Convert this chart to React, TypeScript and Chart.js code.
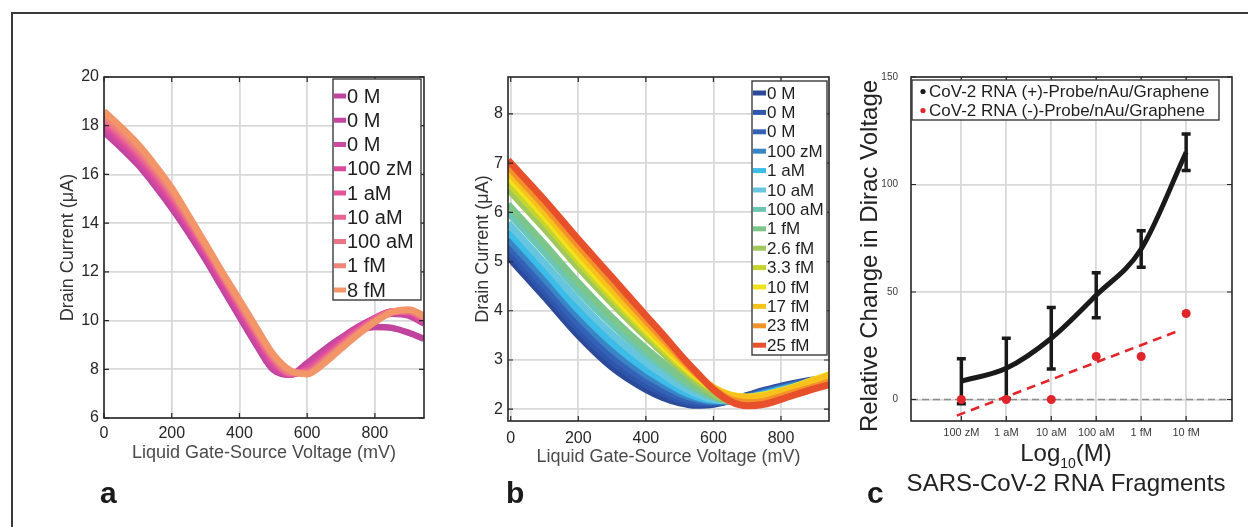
import React, { useEffect, useRef } from "react";
import { Chart, registerables } from "chart.js";

Chart.register(...registerables);

const FONT = '"Liberation Sans", Arial, Helvetica, sans-serif';
const W = 1248;
const H = 527;

// ---------------- Panel a data ----------------
const voltA = [0, 50, 100, 150, 200, 250, 300, 350, 400, 450, 500, 550, 600, 650, 700, 750, 800, 850, 900, 945];
const concA = ["0 M", "0 M", "0 M", "100 zM", "1 aM", "10 aM", "100 aM", "1 fM", "8 fM"];
const colorsA = ["#c0449e", "#c6479f", "#cc4aa2", "#dc4a9e", "#e4549a", "#e86492", "#ec7488", "#ef8578", "#f2966a"];
const curA_0M_1 = [17.75, 17.1, 16.4, 15.55, 14.62, 13.6, 12.5, 11.32, 10.15, 9.0, 7.98, 7.78, 8.25, 8.8, 9.28, 9.58, 9.74, 9.7, 9.5, 9.25];
const curA_0M_2 = [17.85, 17.2, 16.5, 15.65, 14.72, 13.7, 12.6, 11.44, 10.28, 9.12, 8.06, 7.78, 8.15, 8.72, 9.28, 9.74, 10.08, 10.28, 10.2, 9.88];
const curA_0M_3 = [17.95, 17.3, 16.6, 15.75, 14.82, 13.8, 12.7, 11.54, 10.38, 9.22, 8.14, 7.79, 8.08, 8.64, 9.2, 9.7, 10.1, 10.35, 10.3, 9.96];
const curA_100zM = [18.05, 17.4, 16.7, 15.86, 14.93, 13.9, 12.8, 11.64, 10.48, 9.32, 8.24, 7.8, 8.02, 8.56, 9.12, 9.65, 10.1, 10.36, 10.32, 10.0];
const curA_1aM = [18.15, 17.5, 16.8, 15.97, 15.04, 14.0, 12.9, 11.74, 10.58, 9.42, 8.34, 7.82, 7.96, 8.48, 9.06, 9.6, 10.06, 10.36, 10.36, 10.05];
const curA_10aM = [18.25, 17.6, 16.9, 16.08, 15.14, 14.08, 12.97, 11.8, 10.64, 9.48, 8.41, 7.84, 7.9, 8.42, 9.0, 9.55, 10.04, 10.36, 10.38, 10.1];
const curA_100aM = [18.35, 17.7, 17.0, 16.18, 15.24, 14.16, 13.04, 11.86, 10.7, 9.55, 8.48, 7.87, 7.86, 8.36, 8.95, 9.5, 10.0, 10.35, 10.4, 10.12];
const curA_1fM = [18.45, 17.81, 17.12, 16.28, 15.34, 14.24, 13.1, 11.92, 10.78, 9.63, 8.55, 7.91, 7.82, 8.3, 8.9, 9.46, 9.96, 10.34, 10.42, 10.15];
const curA_8fM = [18.6, 17.95, 17.25, 16.4, 15.45, 14.32, 13.16, 11.98, 10.86, 9.72, 8.62, 7.96, 7.8, 8.24, 8.84, 9.42, 9.94, 10.34, 10.45, 10.2];
const seriesA = [curA_0M_1, curA_0M_2, curA_0M_3, curA_100zM, curA_1aM, curA_10aM, curA_100aM, curA_1fM, curA_8fM];
const xTicksA = [0, 200, 400, 600, 800];
const yTicksA = [6, 8, 10, 12, 14, 16, 18, 20];

// ---------------- Panel b data ----------------
const voltB = [-8, 100, 200, 300, 400, 450, 500, 550, 600, 650, 700, 750, 800, 900, 945];
const concB = ["0 M", "0 M", "0 M", "100 zM", "1 aM", "10 aM", "100 aM", "1 fM", "2.6 fM", "3.3 fM", "10 fM", "17 fM", "23 fM", "25 fM"];
const colorsB = ["#2c4a9a", "#2e56ac", "#3462b6", "#3a85c6", "#3cbce8", "#66c6e0", "#6cc6b4", "#7cc68c", "#a0c85c", "#c6d430", "#f2e21c", "#f8c21c", "#f4922a", "#e8502c"];
const curB_0M_1 = [5.1, 4.28, 3.5, 2.85, 2.4, 2.24, 2.13, 2.08, 2.1, 2.18, 2.28, 2.38, 2.47, 2.6, 2.62];
const curB_0M_2 = [5.22, 4.4, 3.62, 2.97, 2.5, 2.33, 2.19, 2.12, 2.12, 2.18, 2.27, 2.36, 2.45, 2.59, 2.61];
const curB_0M_3 = [5.34, 4.51, 3.74, 3.08, 2.59, 2.4, 2.25, 2.16, 2.14, 2.18, 2.25, 2.35, 2.44, 2.58, 2.61];
const curB_100zM = [5.47, 4.65, 3.88, 3.21, 2.7, 2.5, 2.32, 2.21, 2.16, 2.18, 2.24, 2.33, 2.42, 2.57, 2.6];
const curB_1aM = [5.62, 4.8, 4.02, 3.35, 2.81, 2.59, 2.39, 2.25, 2.18, 2.17, 2.23, 2.31, 2.4, 2.55, 2.59];
const curB_10aM = [5.78, 4.97, 4.2, 3.52, 2.95, 2.71, 2.48, 2.31, 2.2, 2.17, 2.21, 2.28, 2.38, 2.54, 2.58];
const curB_100aM = [6.0, 5.19, 4.41, 3.72, 3.11, 2.85, 2.59, 2.39, 2.24, 2.17, 2.18, 2.25, 2.35, 2.52, 2.56];
const curB_1fM = [6.16, 5.35, 4.57, 3.86, 3.23, 2.95, 2.67, 2.44, 2.26, 2.17, 2.17, 2.23, 2.32, 2.5, 2.56];
const curB_2_6fM = [6.47, 5.67, 4.88, 4.15, 3.47, 3.15, 2.83, 2.55, 2.31, 2.17, 2.13, 2.18, 2.28, 2.47, 2.54];
const curB_3_3fM = [6.61, 5.8, 5.0, 4.25, 3.55, 3.22, 2.9, 2.62, 2.4, 2.27, 2.24, 2.28, 2.36, 2.58, 2.66];
const curB_10fM = [6.73, 5.91, 5.1, 4.34, 3.62, 3.28, 2.95, 2.66, 2.43, 2.29, 2.25, 2.29, 2.37, 2.6, 2.7];
const curB_17fM = [6.83, 6.01, 5.2, 4.43, 3.7, 3.35, 3.01, 2.7, 2.44, 2.28, 2.24, 2.27, 2.35, 2.58, 2.7];
const curB_23fM = [6.94, 6.13, 5.33, 4.56, 3.8, 3.44, 3.07, 2.72, 2.41, 2.2, 2.13, 2.16, 2.26, 2.46, 2.56];
const curB_25fM = [7.06, 6.25, 5.45, 4.68, 3.9, 3.52, 3.12, 2.75, 2.4, 2.16, 2.07, 2.1, 2.2, 2.42, 2.5];
const seriesB = [curB_0M_1, curB_0M_2, curB_0M_3, curB_100zM, curB_1aM, curB_10aM, curB_100aM, curB_1fM, curB_2_6fM, curB_3_3fM, curB_10fM, curB_17fM, curB_23fM, curB_25fM];
const xTicksB = [0, 200, 400, 600, 800];
const yTicksB = [2, 3, 4, 5, 6, 7, 8];

// ---------------- Panel c data ----------------
const concC = ["100 zM", "1 aM", "10 aM", "100 aM", "1 fM", "10 fM"];
const posProbeMean = [8.5, 14.5, 28.5, 48.5, 70, 115];
const posProbeErr = [10.5, 14, 14.3, 10.5, 8.5, 8.5];
const negProbeValues = [0, 0, 0, 20, 20, 40];
const negFitX = [-0.1, 4.85];
const negFitY = [-7.5, 32.1];
const legendC = ["CoV-2 RNA (+)-Probe/nAu/Graphene", "CoV-2 RNA (-)-Probe/nAu/Graphene"];
const yTicksC = [0, 50, 100, 150];

// ---------------- helpers ----------------
type Area = { l: number; t: number; r: number; b: number; yW: number; xH: number };

type TextItem = {
  text: string; x: number; y: number; font: string; color: string;
  align?: CanvasTextAlign; baseline?: CanvasTextBaseline; rotate?: number;
};
type RichPiece = { text: string; size: number; dy: number };
type LegendCfg = {
  box: [number, number, number, number];
  firstY: number; rowH: number; font: number;
  textX: number; markerX0: number; markerX1: number; kind: "line" | "dot";
  items: string[]; colors: string[];
};
type DecorCfg = {
  legend?: LegendCfg;
  texts?: TextItem[];
  rich?: { pieces: RichPiece[]; cx: number; baseline: number; color: string };
  errorBars?: { index: number; err: number[]; cap: number; width: number; color: string };
  zeroLine?: boolean;
};

function makeDecor(cfg: DecorCfg) {
  return {
    id: "decor",
    beforeDatasetsDraw(chart: any) {
      const { ctx, chartArea: ca } = chart;
      if (cfg.zeroLine) {
        const y = chart.scales.y.getPixelForValue(0);
        ctx.save();
        ctx.strokeStyle = "#8c8c8c";
        ctx.lineWidth = 1.6;
        ctx.setLineDash([7, 4]);
        ctx.beginPath();
        ctx.moveTo(ca.left, y);
        ctx.lineTo(ca.right, y);
        ctx.stroke();
        ctx.restore();
      }
    },
    afterDatasetDraw(chart: any, args: any) {
      const eb = cfg.errorBars;
      if (!eb || args.index !== eb.index) return;
      const { ctx } = chart;
      const ds = chart.data.datasets[eb.index];
      const xs = chart.scales.x;
      const ys = chart.scales.y;
      ctx.save();
      ctx.strokeStyle = eb.color;
      ctx.lineWidth = eb.width;
      ctx.lineCap = "butt";
      ds.data.forEach((d: any, j: number) => {
        const x = xs.getPixelForValue(d.x);
        const yt = ys.getPixelForValue(d.y + eb.err[j]);
        const yb = ys.getPixelForValue(d.y - eb.err[j]);
        ctx.beginPath();
        ctx.moveTo(x, yt);
        ctx.lineTo(x, yb);
        ctx.moveTo(x - eb.cap / 2, yt);
        ctx.lineTo(x + eb.cap / 2, yt);
        ctx.moveTo(x - eb.cap / 2, yb);
        ctx.lineTo(x + eb.cap / 2, yb);
        ctx.stroke();
      });
      ctx.restore();
    },
    afterDraw(chart: any) {
      const { ctx, chartArea: ca } = chart;
      ctx.save();
      // inward tick marks
      ctx.strokeStyle = "#262626";
      ctx.lineWidth = 1.2;
      const tl = 5;
      chart.scales.x.ticks.forEach((t: any) => {
        const x = chart.scales.x.getPixelForValue(t.value);
        ctx.beginPath();
        ctx.moveTo(x, ca.bottom);
        ctx.lineTo(x, ca.bottom - tl);
        ctx.moveTo(x, ca.top);
        ctx.lineTo(x, ca.top + tl);
        ctx.stroke();
      });
      chart.scales.y.ticks.forEach((t: any) => {
        const y = chart.scales.y.getPixelForValue(t.value);
        ctx.beginPath();
        ctx.moveTo(ca.left, y);
        ctx.lineTo(ca.left + tl, y);
        ctx.moveTo(ca.right, y);
        ctx.lineTo(ca.right - tl, y);
        ctx.stroke();
      });
      // box
      ctx.strokeStyle = "#262626";
      ctx.lineWidth = 1.6;
      ctx.strokeRect(ca.left, ca.top, ca.right - ca.left, ca.bottom - ca.top);

      // legend
      const lg = cfg.legend;
      if (lg) {
        const [x0, y0, x1, y1] = lg.box;
        ctx.fillStyle = "#ffffff";
        ctx.fillRect(x0, y0, x1 - x0, y1 - y0);
        ctx.strokeStyle = "#3a3a3a";
        ctx.lineWidth = 1.4;
        ctx.strokeRect(x0, y0, x1 - x0, y1 - y0);
        ctx.font = `${lg.font}px ${FONT}`;
        ctx.textBaseline = "middle";
        ctx.textAlign = "left";
        lg.items.forEach((txt, i) => {
          const y = lg.firstY + i * lg.rowH;
          if (lg.kind === "line") {
            ctx.strokeStyle = lg.colors[i];
            ctx.lineWidth = 5;
            ctx.beginPath();
            ctx.moveTo(lg.markerX0, y);
            ctx.lineTo(lg.markerX1, y);
            ctx.stroke();
          } else {
            ctx.fillStyle = lg.colors[i];
            ctx.beginPath();
            ctx.arc((lg.markerX0 + lg.markerX1) / 2, y, 2.6, 0, Math.PI * 2);
            ctx.fill();
          }
          ctx.fillStyle = "#1e1e1e";
          ctx.fillText(txt, lg.textX, y + 1);
        });
      }
      // free texts
      (cfg.texts || []).forEach((t) => {
        ctx.save();
        ctx.font = t.font;
        ctx.fillStyle = t.color;
        ctx.textAlign = t.align || "left";
        ctx.textBaseline = t.baseline || "alphabetic";
        ctx.translate(t.x, t.y);
        if (t.rotate) ctx.rotate(t.rotate);
        ctx.fillText(t.text, 0, 0);
        ctx.restore();
      });
      // rich text (subscript)
      const rc = cfg.rich;
      if (rc) {
        let total = 0;
        const widths = rc.pieces.map((p) => {
          ctx.font = `${p.size}px ${FONT}`;
          const w = ctx.measureText(p.text).width;
          total += w;
          return w;
        });
        let x = rc.cx - total / 2;
        ctx.fillStyle = rc.color;
        ctx.textAlign = "left";
        ctx.textBaseline = "alphabetic";
        rc.pieces.forEach((p, i) => {
          ctx.font = `${p.size}px ${FONT}`;
          ctx.fillText(p.text, x, rc.baseline + p.dy);
          x += widths[i];
        });
      }
      ctx.restore();
    },
  };
}

function padFor(a: Area) {
  return { left: a.l - a.yW, top: a.t, right: W - a.r, bottom: H - a.b - a.xH };
}

const GRID = { color: "#d9d9d9", lineWidth: 1.8, drawTicks: false };

function linScale(opts: {
  min: number; max: number; ticks: number[]; fontSize: number; pad: number;
  fixW?: number; fixH?: number; title?: any; color?: string; cb?: (v: number) => string;
}) {
  return {
    type: "linear",
    min: opts.min,
    max: opts.max,
    bounds: "ticks",
    afterBuildTicks: (ax: any) => {
      ax.ticks = opts.ticks.map((v) => ({ value: v }));
    },
    afterFit: (ax: any) => {
      if (opts.fixW !== undefined) ax.width = opts.fixW;
      if (opts.fixH !== undefined) ax.height = opts.fixH;
      ax.paddingTop = 0;
      ax.paddingBottom = 0;
      ax.paddingLeft = 0;
      ax.paddingRight = 0;
    },
    grid: GRID,
    border: { display: false },
    ticks: {
      autoSkip: false,
      maxRotation: 0,
      minRotation: 0,
      padding: opts.pad,
      color: opts.color || "#262626",
      font: { family: FONT, size: opts.fontSize },
      callback: opts.cb || ((v: any) => String(v)),
    },
    title: opts.title || { display: false },
  };
}

const AREA_A: Area = { l: 104, t: 77, r: 424, b: 418, yW: 47, xH: 46 };
const AREA_B: Area = { l: 508, t: 77, r: 829, b: 421, yW: 36, xH: 47 };
const AREA_C: Area = { l: 911, t: 77, r: 1232, b: 421, yW: 40, xH: 30 };

function configA(): any {
  return {
    type: "line",
    data: {
      datasets: seriesA.map((ys, i) => ({
        label: concA[i],
        data: voltA.map((x, j) => ({ x, y: ys[j] })),
        borderColor: colorsA[i],
        backgroundColor: colorsA[i],
        borderWidth: 6.5,
        pointRadius: 0,
        cubicInterpolationMode: "monotone",
        fill: false,
        order: -i,
      })),
    },
    options: {
      responsive: false,
      animation: false,
      layout: { padding: padFor(AREA_A) },
      plugins: { legend: { display: false }, tooltip: { enabled: false } },
      scales: {
        x: linScale({
          min: 0, max: 945, ticks: xTicksA, fontSize: 16, pad: 6, fixH: AREA_A.xH,
          title: { display: true, text: "Liquid Gate-Source Voltage (mV)", color: "#4a4a4a", font: { family: FONT, size: 18 }, padding: { top: 0, bottom: 0 } },
        }),
        y: linScale({
          min: 6, max: 20, ticks: yTicksA, fontSize: 16, pad: 5, fixW: AREA_A.yW,
          title: { display: true, text: "Drain Current (μA)", color: "#333333", font: { family: FONT, size: 18 }, padding: { top: 0, bottom: 0 } },
        }),
      },
    },
    plugins: [
      makeDecor({
        legend: {
          box: [333, 79, 421, 300], firstY: 96, rowH: 24.25, font: 20,
          textX: 347, markerX0: 334, markerX1: 346, kind: "line",
          items: concA, colors: colorsA,
        },
        texts: [{ text: "a", x: 100, y: 503, font: `bold 30px ${FONT}`, color: "#1a1a1a" }],
      }),
    ],
  };
}

function configB(): any {
  return {
    type: "line",
    data: {
      datasets: seriesB.map((ys, i) => ({
        label: concB[i],
        data: voltB.map((x, j) => ({ x, y: ys[j] })),
        borderColor: colorsB[i],
        backgroundColor: colorsB[i],
        borderWidth: 7,
        pointRadius: 0,
        cubicInterpolationMode: "monotone",
        fill: false,
        order: -i,
      })),
    },
    options: {
      responsive: false,
      animation: false,
      layout: { padding: padFor(AREA_B) },
      plugins: { legend: { display: false }, tooltip: { enabled: false } },
      scales: {
        x: linScale({
          min: -8, max: 942, ticks: xTicksB, fontSize: 16, pad: 8, fixH: AREA_B.xH,
          title: { display: true, text: "Liquid Gate-Source Voltage (mV)", color: "#4a4a4a", font: { family: FONT, size: 18 }, padding: { top: 0, bottom: 0 } },
        }),
        y: linScale({
          min: 1.76, max: 8.75, ticks: yTicksB, fontSize: 16, pad: 5, fixW: AREA_B.yW,
          title: { display: true, text: "Drain Current (μA)", color: "#333333", font: { family: FONT, size: 18 }, padding: { top: 0, bottom: 0 } },
        }),
      },
    },
    plugins: [
      makeDecor({
        legend: {
          box: [752, 81, 827, 355], firstY: 93, rowH: 19.4, font: 17,
          textX: 767, markerX0: 753, markerX1: 766, kind: "line",
          items: concB, colors: colorsB,
        },
        texts: [{ text: "b", x: 506, y: 503, font: `bold 30px ${FONT}`, color: "#1a1a1a" }],
      }),
    ],
  };
}

function configC(): any {
  const idx = concC.map((_, i) => i);
  return {
    type: "line",
    data: {
      datasets: [
        {
          label: legendC[0],
          data: idx.map((i) => ({ x: i, y: posProbeMean[i] })),
          borderColor: "#1a1a1a",
          backgroundColor: "#1a1a1a",
          borderWidth: 5,
          pointRadius: 0,
          cubicInterpolationMode: "monotone",
          fill: false,
          order: 2,
        },
        {
          label: "fit",
          data: negFitX.map((x, j) => ({ x, y: negFitY[j] })),
          borderColor: "#e0262a",
          borderWidth: 2.6,
          borderDash: [9, 6],
          pointRadius: 0,
          fill: false,
          order: 1,
        },
        {
          label: legendC[1],
          data: idx.map((i) => ({ x: i, y: negProbeValues[i] })),
          showLine: false,
          pointRadius: 4.5,
          pointBorderWidth: 0,
          pointBackgroundColor: "#e0262a",
          borderColor: "#e0262a",
          order: 0,
        },
      ],
    },
    options: {
      responsive: false,
      animation: false,
      layout: { padding: padFor(AREA_C) },
      plugins: { legend: { display: false }, tooltip: { enabled: false } },
      scales: {
        x: linScale({
          min: -1.12, max: 6.02, ticks: idx, fontSize: 11, pad: 5, fixH: AREA_C.xH, color: "#3a3a3a",
          cb: (v: number) => concC[Math.round(v)] ?? "",
        }),
        y: linScale({
          min: -10, max: 150, ticks: yTicksC, fontSize: 10, pad: 13, fixW: AREA_C.yW, color: "#3a3a3a",
        }),
      },
    },
    plugins: [
      makeDecor({
        zeroLine: true,
        errorBars: { index: 0, err: posProbeErr, cap: 9, width: 3.5, color: "#1a1a1a" },
        legend: {
          box: [912, 80, 1219, 120], firstY: 91.5, rowH: 19, font: 17,
          textX: 929, markerX0: 921, markerX1: 925, kind: "dot",
          items: legendC, colors: ["#1a1a1a", "#e0262a"],
        },
        texts: [
          { text: "Relative Change in Dirac Voltage", x: 870, y: 256, font: `24px ${FONT}`, color: "#222222", align: "center", baseline: "middle", rotate: -Math.PI / 2 },
          { text: "SARS-CoV-2 RNA Fragments", x: 1066, y: 491, font: `24px ${FONT}`, color: "#222222", align: "center" },
          { text: "c", x: 867, y: 503, font: `bold 30px ${FONT}`, color: "#1a1a1a" },
        ],
        rich: {
          pieces: [
            { text: "Log", size: 24, dy: 0 },
            { text: "10", size: 14, dy: 7 },
            { text: "(M)", size: 24, dy: 0 },
          ],
          cx: 1066, baseline: 461, color: "#222222",
        },
      }),
    ],
  };
}

function Panel({ make }: { make: () => any }) {
  const ref = useRef<HTMLCanvasElement | null>(null);
  useEffect(() => {
    if (!ref.current) return;
    const chart = new Chart(ref.current, make());
    return () => chart.destroy();
  }, [make]);
  return (
    <canvas
      ref={ref}
      width={W}
      height={H}
      style={{ position: "absolute", left: 0, top: 0, width: W, height: H }}
    />
  );
}

export default function App() {
  return (
    <div style={{ position: "absolute", left: 0, top: 0, width: W, height: H, background: "#ffffff", overflow: "hidden", fontFamily: FONT }}>
      <div
        style={{
          position: "absolute", left: 11, top: 12, width: W + 20, height: H + 20,
          borderLeft: "2px solid #3a3a3a", borderTop: "2px solid #3a3a3a", boxSizing: "border-box",
        }}
      />
      <Panel make={configA} />
      <Panel make={configB} />
      <Panel make={configC} />
    </div>
  );
}
